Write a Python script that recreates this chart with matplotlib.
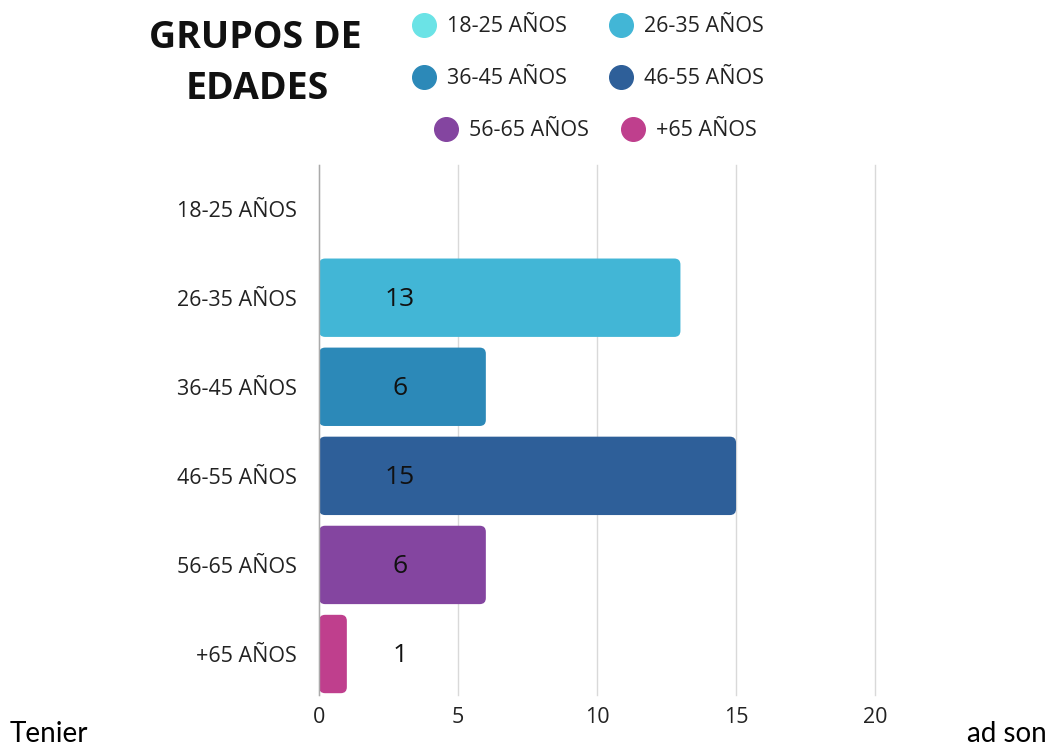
import matplotlib.pyplot as plt
from matplotlib.patches import FancyBboxPatch

groups = ["18-25 AÑOS", "26-35 AÑOS", "36-45 AÑOS", "46-55 AÑOS", "56-65 AÑOS", "+65 AÑOS"]
counts = [0, 13, 6, 15, 6, 1]
colors = ["#6BE3E6", "#42B6D6", "#2C89B8", "#2E5F99", "#8445A0", "#BF3F8D"]
xticks = [0, 5, 10, 15, 20]

plt.rcParams['font.family'] = ['Open Sans', 'DejaVu Sans']

fig = plt.figure(figsize=(10.54, 7.51), dpi=100)
ax = fig.add_axes([0.3027, 0.0746, 0.5275, 0.7057])

bars = ax.barh(range(len(groups)), counts, height=0.88, color=colors)

# swap the plain bars for rounded ones
for bar, c in zip(bars, colors):
    bar.set_visible(False)
    if bar.get_width() <= 0:
        continue
    ax.add_patch(FancyBboxPatch(
        (bar.get_x(), bar.get_y()), bar.get_width(), bar.get_height(),
        boxstyle="round,pad=0,rounding_size=0.22",
        mutation_aspect=0.31,
        facecolor=c, edgecolor="none", zorder=3
    ))

for i, v in enumerate(counts):
    if v > 0:
        ax.text(2.9, i + 0.02, str(v), ha="center", va="center",
                fontsize=19, color="#111111", zorder=4)

ax.set_xlim(0, 20)
ax.set_ylim(5.46, -0.49)
ax.set_xticks(xticks)
ax.set_yticks(range(len(groups)))
ax.set_yticklabels(groups, fontsize=15.5)
ax.tick_params(axis="x", labelsize=15.5, length=0, pad=9)
ax.tick_params(axis="y", length=0, pad=16)
for t in ax.get_xticklabels() + ax.get_yticklabels():
    t.set_color("#222222")

ax.grid(axis="x", color="#d9d9d9", linewidth=1, zorder=0)
for gl in ax.get_xgridlines():
    gl.set_clip_on(False)
ax.set_axisbelow(True)
for s in ["top", "right", "bottom"]:
    ax.spines[s].set_visible(False)
ax.spines["left"].set_color("#aaaaaa")
ax.spines["left"].set_linewidth(1)
ax.spines["left"].set_zorder(5)

# title
fig.text(255 / 1054, 1 - 38 / 751, "GRUPOS DE", ha="center", va="center",
         fontsize=27, fontweight="bold", color="#111111")
fig.text(257 / 1054, 1 - 89 / 751, "EDADES", ha="center", va="center",
         fontsize=27, fontweight="bold", color="#111111")

# legend, three rows of two
leg_dots = [(424, 25), (621, 25), (424, 77), (621, 77), (446, 129), (633, 129)]
for (px, py), name, c in zip(leg_dots, groups, colors):
    fig.lines.append(plt.Line2D([px / 1054], [1 - py / 751], marker="o",
                                markersize=17, color=c, linestyle="none",
                                transform=fig.transFigure))
    fig.text((px + 23) / 1054, 1 - (py + 2) / 751, name, ha="left", va="center",
             fontsize=15.5, color="#222222")

fig.text(10 / 1054, 4 / 751, "Tenier", ha="left", va="bottom",
         fontsize=20, family=["Lato", "DejaVu Sans"], color="#000000")
fig.text(1047 / 1054, 4 / 751, "ad son", ha="right", va="bottom",
         fontsize=20, family=["Lato", "DejaVu Sans"], color="#000000")

fig.savefig("out.png", dpi=100)
